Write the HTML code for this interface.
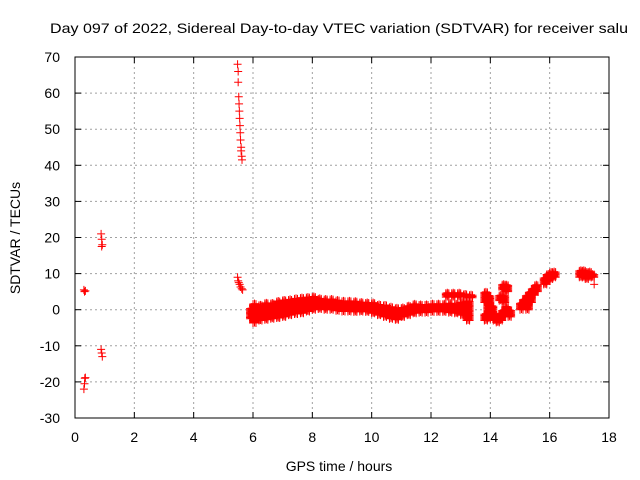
<!DOCTYPE html>
<html><head><meta charset="utf-8"><style>
body{margin:0;background:#fff}
svg{display:block;font-family:"Liberation Sans",sans-serif}
</style></head><body>
<svg id="chart" width="640" height="480">
<rect width="640" height="480" fill="#fff"/>
<text x="50" y="33" font-size="14" textLength="578" lengthAdjust="spacingAndGlyphs">Day 097 of 2022, Sidereal Day-to-day VTEC variation (SDTVAR) for receiver salu</text>
<text x="339" y="471" font-size="14" text-anchor="middle">GPS time / hours</text>
<text transform="translate(20,238) rotate(-90)" font-size="14" text-anchor="middle">SDTVAR / TECUs</text>
<g id="grid"></g>
<g id="marks"></g>
<rect x="75" y="57" width="534" height="361" fill="none" stroke="#000" stroke-width="1"/>
</svg>
<script>
const xTicks=[0,2,4,6,8,10,12,14,16,18];
const yTicks=[-30,-20,-10,0,10,20,30,40,50,60,70];
// isolated points
const ptT=[0.3,0.32,0.35,0.3,0.32,0.33,0.35,0.88,0.9,0.9,0.92,0.88,0.9,0.92,
5.48,5.5,5.5,5.52,5.53,5.54,5.55,5.56,5.57,5.58,5.6,5.6,5.62,5.63,
5.48,5.5,5.52,5.55,5.58,5.62,5.65,17.5];
const ptV=[5.5,5,5.2,-22,-20.5,-19,-18.8,21,19.5,17.5,18,-11,-12,-13,
68,66,63,59,57,55,53,51,49,47,45,44,42.5,41.5,
9,8,7.5,7,6.3,5.8,5.5,7];
// dense band segments: time, low, high
const bandT=[5.9,6.0,6.2,6.4,6.6,6.8,7.0,7.2,7.4,7.6,7.8,8.0,8.2,8.4,8.6,8.8,9.0,9.2,9.4,9.6,9.8,10.0,10.2,10.4,10.6,10.8,11.0,11.2,11.4,11.6,11.8,12.0,12.2,12.4,12.6,12.8,13.0,13.2,
12.5,12.7,12.9,13.1,13.3,
13.8,13.8,13.9,14.0,14.1,14.2,14.3,14.3,14.4,14.4,14.4,14.5,14.5,14.6,
15.0,15.1,15.2,15.3,15.4,15.5,15.8,15.9,16.0,16.1,
17.0,17.1,17.2,17.3,17.4];
const bandLo=[-2.5,-3.7,-3,-2.8,-2.5,-2.3,-2,-1.5,-1.2,-1,-0.5,0,0.2,0,0,-0.3,-0.5,-0.5,-0.6,-0.5,-0.6,-1,-1.5,-2,-2.5,-2.8,-2,-1.5,-1,-0.8,-0.8,-0.6,-0.6,-0.6,-0.8,-1,-1.5,-3,
3.5,3.5,3.5,3.5,3.3,
2,-3,-2.5,-1.5,-3,-3.5,-3,2.5,-2,2,5.5,-1,5,-2,
0,1,0,2,4,5,7,8,8.5,9,
9,9,8.5,9,9];
const bandHi=[0.5,1.8,1.5,1.8,2,2.3,2.7,2.8,3,3.2,3.5,3.5,3,3,2.8,2.6,2.6,2.5,2.3,2.2,2,2,1.5,1.2,0.8,0.5,0.5,1.2,1.5,1.6,1.6,1.8,1.8,1.8,1.8,1.6,2,2.5,
4.8,4.8,4.6,4.5,4.3,
5,-1,4,1,-1.5,-2,-1,4,0,4,7,1,7,0,
2,3,4,5,6,7,9,10,10.5,10.5,
11,11,10.5,10.5,10];
const X=t=>75+t*534/18;
const Y=v=>418-(v+30)*361/100;
const NS="http://www.w3.org/2000/svg";
const grid=document.getElementById('grid'),marks=document.getElementById('marks');
function mk(tag,attrs,parent){const e=document.createElementNS(NS,tag);for(const k in attrs)e.setAttribute(k,attrs[k]);parent.appendChild(e);return e;}
xTicks.forEach(t=>{
  const x=X(t);
  if(t>0&&t<18){const g=mk('line',{x1:x,x2:x,y1:57,y2:418,stroke:'#a0a0a0','stroke-dasharray':'2,3'},grid);
  
  }
  mk('line',{x1:x,x2:x,y1:418,y2:412,stroke:'#000'},grid);
  mk('line',{x1:x,x2:x,y1:57,y2:63,stroke:'#000'},grid);
  const l=mk('text',{x:x,y:442,'font-size':14,'text-anchor':'middle'},grid);l.textContent=t;
  
  
});
yTicks.forEach(v=>{
  const y=Y(v);
  if(v>-30&&v<70){const g=mk('line',{x1:75,x2:609,y1:y,y2:y,stroke:'#a0a0a0','stroke-dasharray':'2,3'},grid);
  
  }
  mk('line',{x1:75,x2:81,y1:y,y2:y,stroke:'#000'},grid);
  mk('line',{x1:609,x2:603,y1:y,y2:y,stroke:'#000'},grid);
  const l=mk('text',{x:60,y:y+5,'font-size':14,'text-anchor':'end'},grid);l.textContent=v;
  
  
});
function plus(t,v){
  const x=X(t),y=Y(v);
  const p=mk('path',{d:`M${x-4},${y}h8M${x},${y-4}v8`,stroke:'#f00','stroke-width':1},marks);
  
  
}
ptT.forEach((t,i)=>plus(t,ptV[i]));
bandT.forEach((t,i)=>{
  for(let v=bandLo[i];v<=bandHi[i]+0.01;v+=0.35){plus(t,v);plus(t+0.05,v+0.15);plus(t+0.1,v);}
});
</script>
</body></html>
